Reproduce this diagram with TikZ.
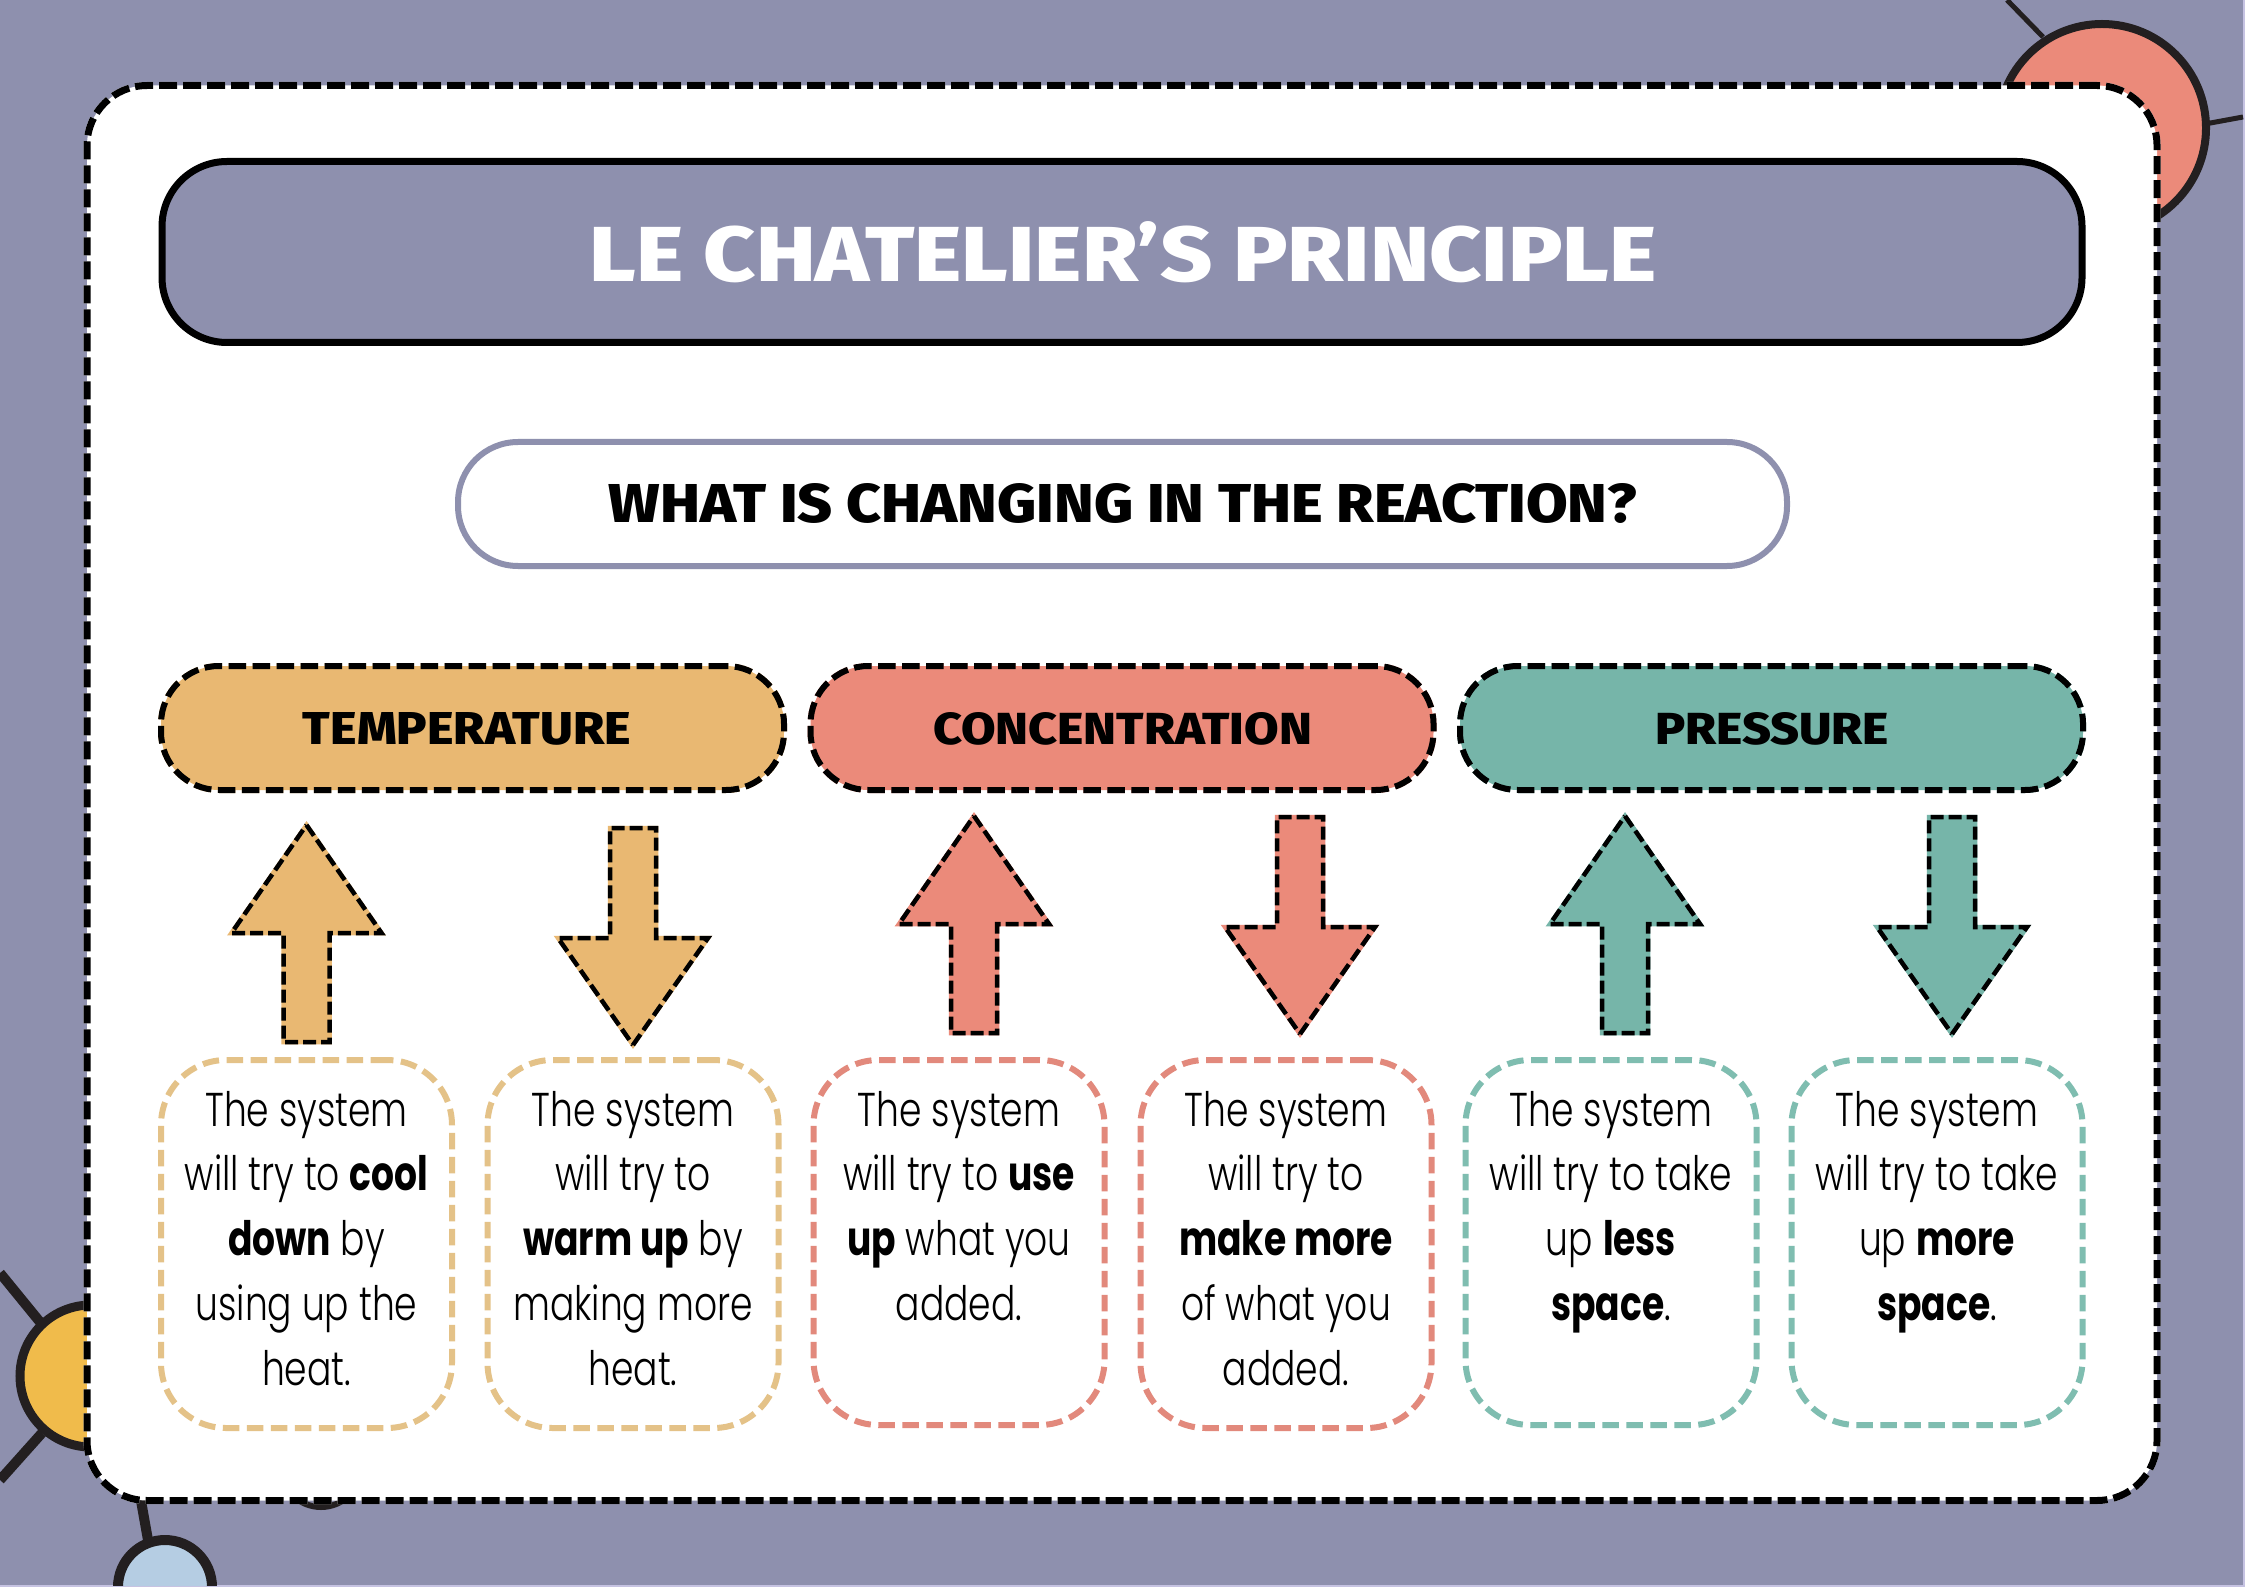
\documentclass[tikz,border=0pt]{standalone}
\usepackage{fontspec}
\usepackage{graphicx}
\setmainfont{Poppins}
\newfontfamily\headfont[UprightFont=* ExtraBold,BoldFont=* ExtraBold]{Fira Sans}
\newfontfamily\bodyfont[UprightFont=* Light,BoldFont=* Bold,FakeStretch=0.76]{Poppins}
\definecolor{bgc}{HTML}{8E90AE}
\definecolor{edge}{HTML}{C6C3E2}
\definecolor{amber}{HTML}{E9B872}
\definecolor{coral}{HTML}{EB8A7A}
\definecolor{teal2}{HTML}{76B5A9}
\definecolor{ambl}{HTML}{E4C288}
\definecolor{corl}{HTML}{E2897C}
\definecolor{teall}{HTML}{7FBDB0}
\definecolor{ink}{HTML}{231F20}
\definecolor{mustard}{HTML}{F0BB4B}
\definecolor{skyb}{HTML}{B5CDE3}
\tikzset{
  x=0.1mm,y=-0.1mm,
  pad/.style={inner sep=0pt,outer sep=0pt},
  dashfill/.style={pad,fill=#1,preaction={draw=#1,line width=0.6mm},draw=black,line width=0.6mm,dash pattern=on 1.75mm off 0.65mm},
  pill/.style={dashfill=#1,rounded corners=5.8mm,minimum height=12.4mm,minimum width=62.3mm},
  arrowshape/.style={pad,fill=#1,draw=black,line width=0.45mm,dash pattern=on 1.3mm off 0.5mm,preaction={draw=#1,line width=0.45mm}},
  textbox/.style={pad,draw=#1,line width=0.6mm,dash pattern=on 1.65mm off 0.75mm,rounded corners=6.5mm,minimum width=29.1mm},
  bodytext/.style={pad,align=center,anchor=north,text=black,font=\bodyfont\fontsize{13.5}{18.45}\selectfont},
  heading/.style={pad,text=black,font=\headfont\fontsize{12}{14}\selectfont},
  ball/.style={draw=ink,line width=#1},
  spoke/.style={draw=ink,line width=#1},
}
\newcommand{\fitbox}[3]{\resizebox{#1}{#2}{#3}}
\begin{document}
\begin{tikzpicture}
\useasboundingbox (0,0) rectangle (2245,1587);
\fill[edge] (0,0) rectangle (2245,1587);
\fill[bgc] (0,0) rectangle (2243,1585);
% decorative molecules
\coordinate (r1) at (2007,0); \coordinate (r2) at (2043,37);
\coordinate (r3) at (2205,124); \coordinate (r4) at (2243,117);
\draw[spoke=0.5mm] (r1) -- (r2);
\draw[spoke=0.5mm] (r3) -- (r4);
\draw[ball=0.8mm,fill=coral] (2102,128) circle (104);
\coordinate (y1) at (0,1273); \coordinate (y2) at (40,1322);
\coordinate (y3) at (42,1433); \coordinate (y4) at (0,1480);
\draw[spoke=1mm] (y1) -- (y2);
\draw[spoke=1mm] (y3) -- (y4);
\draw[ball=0.9mm,fill=mustard] (91,1376) circle (71);
\coordinate (b1) at (140,1495); \coordinate (b2) at (148,1540);
\draw[spoke=1mm] (b1) -- (b2);
\begin{scope}
\clip (0,0) rectangle (2243,1585);
\draw[ball=1mm,fill=skyb] (165,1587) circle (47);
\end{scope}
\draw[ball=0.6mm] (321,1467) circle (40);
% card
\node[pad,fill=white,preaction={draw=white,line width=0.7mm},draw=black,line width=0.7mm,dash pattern=on 1.8mm off 0.6mm,rounded corners=6mm,minimum width=207mm,minimum height=141.5mm] (card) at (1122,793) {};
% title
\node[pad,fill=bgc,draw=black,line width=0.7mm,rounded corners=6.5mm,minimum width=192mm,minimum height=18.1mm] (title) at (1122,252) {};
\node[pad,text=white,font=\headfont\fontsize{24}{28}\selectfont] (titletext) at (1123,252) {\fitbox{106.7mm}{6mm}{LE CHATELIER’S PRINCIPLE}};
\node[pad,fill=white,draw=bgc,line width=0.6mm,rounded corners=6mm,minimum width=132.9mm,minimum height=12.4mm] (question) at (1122.5,504) {};
\node[heading] (questiontext) at (1123,503) {\fitbox{102.8mm}{3.9mm}{WHAT IS CHANGING IN THE REACTION?}};
% categories
\node[pill=amber] (temp) at (472.5,728) {};
\node[pill=coral] (conc) at (1122,728) {};
\node[pill=teal2] (press) at (1771.5,728) {};
\node[heading] (temptext) at (467,729) {\fitbox{32.8mm}{3.2mm}{TEMPERATURE}};
\node[heading] (conctext) at (1122.5,729) {\fitbox{37.9mm}{3.2mm}{CONCENTRATION}};
\node[heading] (presstext) at (1772,729) {\fitbox{23.4mm}{3.2mm}{PRESSURE}};
% arrows
\newcommand{\uparr}[3]{\path[arrowshape=#1] (#2,#3) -- ++(75,108) -- ++(-52,0) -- ++(0,109) -- ++(-46,0) -- ++(0,-109) -- ++(-52,0) -- cycle;}
\newcommand{\downarr}[3]{\path[arrowshape=#1] (#2,#3) -- ++(75,-107) -- ++(-52,0) -- ++(0,-110) -- ++(-46,0) -- ++(0,110) -- ++(-52,0) -- cycle;}
\uparr{amber}{306.5}{825}
\downarr{amber}{633}{1045}
\uparr{coral}{974}{816}
\downarr{coral}{1300}{1034}
\uparr{teal2}{1625}{816}
\downarr{teal2}{1952}{1034}
% text boxes
\node[textbox=ambl,minimum height=36.8mm] (b1box) at (306.5,1244) {};
\node[textbox=ambl,minimum height=36.8mm] (b2box) at (633,1244) {};
\node[textbox=corl,minimum height=36.5mm] (b3box) at (959,1242.5) {};
\node[textbox=corl,minimum height=36.8mm] (b4box) at (1286,1244) {};
\node[textbox=teall,minimum height=36.5mm] (b5box) at (1611,1242.5) {};
\node[textbox=teall,minimum height=36.5mm] (b6box) at (1937,1242.5) {};
\node[bodytext] (b1txt) at (306.5,1091) {The system\\will try to \textbf{cool}\\\textbf{down} by\\using up the\\heat.};
\node[bodytext] (b2txt) at (633,1091) {The system\\will try to\\\textbf{warm up} by\\making more\\heat.};
\node[bodytext] (b3txt) at (959,1091) {The system\\will try to \textbf{use}\\\textbf{up} what you\\added.};
\node[bodytext] (b4txt) at (1286,1091) {The system\\will try to\\\textbf{make more}\\of what you\\added.};
\node[bodytext] (b5txt) at (1611,1091) {The system\\will try to take\\up \textbf{less}\\\textbf{space}.};
\node[bodytext] (b6txt) at (1937,1091) {The system\\will try to take\\up \textbf{more}\\\textbf{space}.};
\end{tikzpicture}
\end{document}
